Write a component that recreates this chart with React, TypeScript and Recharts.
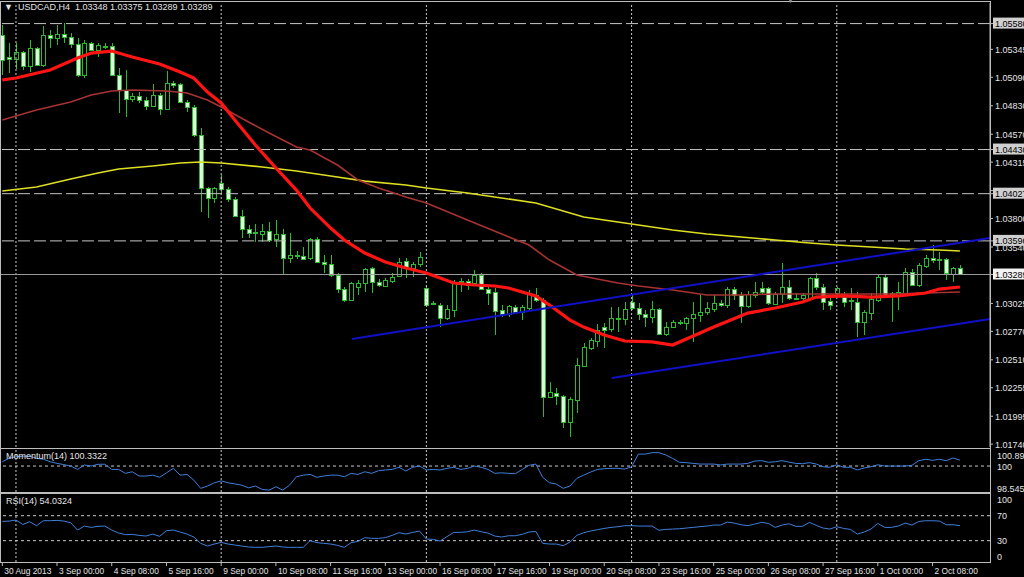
import React from 'react';
import { ComposedChart, Bar, Line, XAxis, YAxis, ReferenceLine } from 'recharts';

// ---------- DATA ----------
const xLabels = ['30 Aug 2013','3 Sep 00:00','4 Sep 08:00','5 Sep 16:00','9 Sep 00:00','10 Sep 08:00','11 Sep 16:00','13 Sep 00:00','16 Sep 08:00','17 Sep 16:00','19 Sep 00:00','20 Sep 08:00','23 Sep 16:00','25 Sep 00:00','26 Sep 08:00','27 Sep 16:00','1 Oct 00:00','2 Oct 08:00'];
const labelStep = 8;
const weekStarts = [2, 32, 62, 92, 122];

const opens = [1.05475,1.05275,1.05256,1.0532,1.05192,1.05357,1.05202,1.05475,1.05448,1.05485,1.05457,1.05393,1.0511,1.05402,1.05338,1.05375,1.05375,1.0511,1.04973,1.04891,1.04919,1.04882,1.04827,1.04928,1.048,1.05037,1.05028,1.04864,1.04818,1.04562,1.04079,1.03987,1.04124,1.04069,1.03978,1.03823,1.03704,1.03677,1.03659,1.03686,1.03613,1.03659,1.03439,1.03467,1.03458,1.03439,1.03613,1.03403,1.03385,1.03284,1.03156,1.03056,1.03175,1.03211,1.03348,1.0322,1.03184,1.03229,1.03275,1.03412,1.03348,1.03385,1.03166,1.03019,1.0301,1.02892,1.02965,1.0322,1.03229,1.03211,1.03284,1.03156,1.03129,1.02965,1.02928,1.02992,1.02946,1.02983,1.03102,1.03056,1.0217,1.02207,1.0218,1.01942,1.02143,1.02453,1.02618,1.02682,1.02809,1.02791,1.02892,1.02883,1.03038,1.02983,1.02928,1.02901,1.02974,1.02746,1.02809,1.02855,1.02846,1.02892,1.02919,1.02946,1.02974,1.03029,1.0301,1.03156,1.03102,1.03001,1.03102,1.03166,1.03166,1.03019,1.03111,1.03175,1.03074,1.03074,1.03074,1.03257,1.03175,1.03047,1.0312,1.03083,1.03056,1.03038,1.02855,1.02937,1.03056,1.03266,1.03111,1.03102,1.0312,1.03312,1.03193,1.03366,1.03439,1.03421,1.0343,1.03293,1.03348];
const highs = [1.05567,1.05402,1.05402,1.05329,1.0543,1.05366,1.05558,1.05521,1.05567,1.05585,1.05494,1.05448,1.0543,1.05412,1.05402,1.05402,1.05402,1.05174,1.05156,1.04946,1.04955,1.04909,1.05028,1.04946,1.05147,1.05055,1.05037,1.04882,1.04836,1.04626,1.04088,1.04088,1.04197,1.04088,1.03996,1.03878,1.03741,1.0375,1.0375,1.03768,1.03786,1.03704,1.03668,1.03503,1.0354,1.03622,1.03631,1.03467,1.03467,1.03303,1.03175,1.0322,1.03239,1.03348,1.03357,1.03248,1.03257,1.03303,1.03439,1.03439,1.03403,1.03494,1.03193,1.03047,1.03029,1.0301,1.03239,1.03257,1.03248,1.0333,1.03303,1.03175,1.03166,1.0301,1.0301,1.0301,1.0301,1.03147,1.03166,1.03074,1.02307,1.02253,1.02189,1.0217,1.02526,1.02663,1.02709,1.02837,1.02846,1.02992,1.02992,1.03038,1.03102,1.03029,1.02965,1.03047,1.02983,1.02855,1.02873,1.02873,1.02901,1.03038,1.03102,1.03038,1.03102,1.03056,1.03175,1.03175,1.03129,1.03138,1.0322,1.0322,1.03175,1.03129,1.03394,1.03239,1.0312,1.0312,1.03266,1.03303,1.03202,1.03083,1.03175,1.03129,1.03166,1.03129,1.02965,1.0312,1.03284,1.03284,1.03129,1.0322,1.03348,1.03339,1.03394,1.03467,1.03558,1.03494,1.03439,1.03357,1.03375];
const lows = [1.0511,1.05129,1.05165,1.05156,1.05138,1.05192,1.05183,1.05357,1.05384,1.05402,1.05357,1.05092,1.05083,1.05329,1.05275,1.05348,1.0511,1.04763,1.04727,1.04864,1.04855,1.04791,1.04818,1.04745,1.04791,1.04992,1.04855,1.04772,1.04544,1.03859,1.03805,1.03942,1.04033,1.03951,1.03814,1.03622,1.03622,1.03586,1.03586,1.03586,1.0354,1.03284,1.03394,1.0343,1.03421,1.03421,1.03394,1.03303,1.03266,1.0312,1.03038,1.03047,1.03102,1.03129,1.0312,1.03175,1.03175,1.03211,1.03266,1.03257,1.03266,1.03357,1.03001,1.0301,1.02809,1.02873,1.02901,1.03129,1.03147,1.03193,1.03147,1.0301,1.02736,1.02901,1.02901,1.02937,1.02873,1.02965,1.03038,1.01988,1.02161,1.02097,1.01887,1.01805,1.02024,1.02444,1.02599,1.02627,1.02618,1.02764,1.02764,1.02828,1.02965,1.02873,1.02809,1.02846,1.02736,1.02727,1.028,1.02828,1.02782,1.02673,1.02855,1.02919,1.02946,1.02992,1.02983,1.03056,1.02846,1.02983,1.03074,1.03111,1.0301,1.0301,1.03029,1.03056,1.03056,1.03056,1.03056,1.03147,1.02965,1.02965,1.03102,1.02992,1.02965,1.02718,1.02736,1.02873,1.03038,1.03083,1.02855,1.02965,1.03102,1.03184,1.03175,1.03348,1.03394,1.0333,1.03239,1.0322,1.03289];
const closes = [1.05247,1.05256,1.0532,1.05192,1.05357,1.05202,1.05475,1.05448,1.05485,1.05457,1.05393,1.0511,1.05402,1.05338,1.05384,1.0537,1.0511,1.04973,1.04891,1.04919,1.04882,1.04827,1.04928,1.048,1.05037,1.05019,1.04864,1.04818,1.04562,1.04079,1.03987,1.04079,1.04069,1.03978,1.03823,1.03704,1.03668,1.03672,1.03686,1.03604,1.03659,1.03439,1.03467,1.03458,1.0343,1.03613,1.03403,1.03385,1.03284,1.03156,1.03056,1.03211,1.03211,1.03339,1.0322,1.03193,1.03239,1.03266,1.03403,1.03357,1.03385,1.03449,1.0301,1.03029,1.02892,1.02974,1.0322,1.03229,1.03193,1.03284,1.03156,1.0312,1.02956,1.02928,1.03001,1.02946,1.02992,1.0312,1.03056,1.0217,1.02216,1.0218,1.01942,1.02152,1.02463,1.02627,1.02691,1.02782,1.02782,1.02892,1.02883,1.02974,1.02983,1.02928,1.02901,1.02974,1.02746,1.02809,1.02855,1.0285,1.02892,1.02928,1.02946,1.02983,1.03029,1.0301,1.03156,1.03102,1.03001,1.03111,1.03129,1.03129,1.03029,1.03111,1.03175,1.03074,1.0307,1.03102,1.03257,1.03175,1.03038,1.0301,1.03166,1.03038,1.03047,1.02855,1.02946,1.03065,1.03266,1.03102,1.0312,1.03129,1.03312,1.03193,1.03376,1.03439,1.03421,1.0343,1.03303,1.03348,1.03289];

// moving averages read at sampled bars: [bar index, price]
const maFast: [number, number][] = [[0,1.05065],[2,1.05083],[7,1.05156],[11,1.05265],[13,1.05311],[16,1.05329],[19,1.05275],[23,1.05211],[26,1.05138],[28,1.05083],[30,1.04955],[32,1.04855],[34,1.04699],[37,1.04471],[40,1.04261],[43,1.0406],[45,1.03896],[48,1.03713],[50,1.03604],[53,1.03485],[56,1.03403],[59,1.03348],[62,1.03303],[66,1.03211],[69,1.03193],[72,1.03184],[74,1.03166],[78,1.03093],[80,1.0301],[83,1.02873],[85,1.02809],[88,1.02736],[91,1.02682],[95,1.02673],[98,1.02645],[101,1.02727],[104,1.02809],[109,1.02937],[113,1.02983],[117,1.03038],[119,1.03083],[123,1.03093],[127,1.03083],[131,1.03093],[135,1.0312],[137,1.03156],[140,1.03175]];
const maMid: [number, number][] = [[0,1.04699],[5,1.04791],[10,1.04864],[13,1.04928],[16,1.04964],[19,1.04973],[24,1.04964],[27,1.04946],[30,1.04882],[32,1.04818],[36,1.04681],[39,1.04581],[43,1.04453],[45,1.04426],[49,1.04289],[52,1.04152],[55,1.04079],[59,1.03996],[62,1.03942],[68,1.03786],[77,1.03558],[80,1.03421],[84,1.03284],[90,1.03211],[93,1.03184],[98,1.03147],[103,1.03102],[108,1.03102],[113,1.03111],[120,1.03111],[130,1.03111],[140,1.03129]];
const maSlow: [number, number][] = [[0,1.04051],[5,1.04088],[10,1.04161],[14,1.04216],[17,1.04252],[22,1.0428],[26,1.04307],[29,1.04316],[32,1.04307],[38,1.04271],[43,1.04234],[48,1.04188],[53,1.04142],[59,1.04106],[62,1.04079],[68,1.04033],[78,1.03942],[85,1.03814],[93,1.03741],[98,1.03695],[103,1.03659],[108,1.03631],[113,1.03604],[118,1.03577],[122,1.03558],[127,1.0354],[132,1.03522],[137,1.03513],[140,1.03503]];

const trendUpper = [{ x: 51.1, y: 1.027 }, { x: 144.4, y: 1.03622 }];
const trendLower = [{ x: 89.1, y: 1.02344 }, { x: 144.4, y: 1.02883 }];
const levels = [1.0558, 1.0443, 1.04027, 1.03596];
const bidLevel = 1.03289;

const momentum = [100.24,100.43,100.52,100.55,100.56,100.43,100.38,100.24,100.15,100.08,100.0,99.81,100.06,100.0,100.1,100.1,99.81,99.81,99.59,99.68,99.44,99.44,99.49,99.37,99.62,99.87,99.49,99.53,99.21,98.75,98.88,99.06,99.17,99.06,99.0,98.93,98.78,98.88,98.69,98.65,98.84,98.65,98.93,99.4,99.49,99.53,99.37,99.44,99.49,99.49,99.4,99.59,99.53,99.68,99.59,99.74,99.78,99.81,99.93,99.72,99.93,100.0,99.78,99.81,99.78,99.87,99.93,99.81,99.87,100.0,99.93,99.81,99.59,99.62,99.59,99.57,99.81,100.04,100.11,99.37,99.06,98.99,98.75,98.88,99.31,99.49,99.66,99.81,99.85,99.87,99.87,99.83,99.96,100.67,100.67,100.75,100.75,100.62,100.43,100.21,100.19,100.15,100.11,100.11,100.11,100.06,100.11,100.11,100.11,100.15,100.28,100.3,100.21,100.24,100.3,100.22,100.15,100.13,100.19,100.11,99.96,99.93,100.07,99.93,99.93,99.78,99.89,99.96,100.07,100.0,100.0,100.0,100.0,100.04,100.3,100.38,100.32,100.38,100.3,100.45,100.33];
const rsi = [60.8,61.4,63.0,56,60.3,54,62,62,62.5,61.4,58.8,47.0,53.4,51.3,53,53.4,47.0,42.2,39.6,40.1,38.5,37.4,40.6,36.9,46.0,47.0,43.8,40.6,35.8,25.7,21.4,24.6,27.3,24.6,23.0,21.4,19.8,19.3,19.3,20.4,21.4,19.8,19.3,19.3,19.3,30.0,26.8,25.7,24.6,22.5,19.3,26.8,28.9,34.8,33.7,33.7,34.8,38.5,42.8,40.6,43.3,45.4,32.6,32.1,29.4,36.4,43.3,43.3,44.3,47.0,44.3,42.2,37.4,35.8,37.9,37.9,40.1,43.8,44.8,25.7,24.6,24.6,21.9,27.8,38.5,42.8,45.4,47.6,49.6,51.3,52.4,54,54,53.4,53.4,53.4,46.6,48.1,48.6,49.1,50.2,51.3,52.4,53.4,55.0,55.0,59.8,58.2,55.5,54,56.6,59.3,57.6,51.3,55,57.1,53,53,59.3,54.5,50.2,48.6,52.4,49.6,48.1,40.6,43.8,48.6,57.6,51.3,51.3,53.4,58.2,55,60.8,61.9,61.9,61.4,55.5,55.5,54.03];

const priceTicks = [1.05345, 1.0509, 1.0483, 1.0457, 1.04315, 1.04055, 1.038, 1.0354, 1.03025, 1.0277, 1.0251, 1.02255, 1.01995, 1.0174];
const momTicks = [100.8985, 100, 98.5458];
const rsiTicks = [100, 70, 30, 0];

// ---------- BUILD ----------
const toMap = (arr: [number, number][]) => new Map(arr.map(([i, v]) => [i, v]));
const fastMap = toMap(maFast), midMap = toMap(maMid), slowMap = toMap(maSlow);

const mainData = opens.map((o, i) => ({
  i, o, h: highs[i], l: lows[i], c: closes[i],
  range: [lows[i], highs[i]],
  fast: fastMap.get(i), mid: midMap.get(i), slow: slowMap.get(i),
}));
const momData = momentum.map((v, i) => ({ i, v }));
const rsiData = rsi.map((v, i) => ({ i, v }));

const X_DOMAIN: [number, number] = [-0.19, 144.4];
const FONT = '"Liberation Sans", Arial, sans-serif';
const GREEN = '#2dbb2d';
const TXT = '#e4e4e4';
const xTicks = xLabels.map((_, k) => k * labelStep);

const Candle = (props: any) => {
  const { x, y, width, height, payload } = props;
  if (!payload) return null;
  const { o, h, l, c } = payload;
  const top = Math.min(y, y + height);
  const hh = Math.abs(height);
  const k = h - l > 0 ? hh / (h - l) : 0;
  const yO = top + (h - o) * k;
  const yC = top + (h - c) * k;
  const cx = Math.round(x + width / 2);
  const bull = c >= o;
  const bTop = Math.round(Math.min(yO, yC));
  const bH = Math.max(Math.round(Math.abs(yC - yO)), 1);
  return (
    <g>
      <line x1={cx + 0.5} x2={cx + 0.5} y1={Math.round(top)} y2={Math.round(top + hh)} stroke={GREEN} strokeWidth={1} />
      <rect x={cx - 1.5} y={bTop + 0.5} width={4} height={bH} fill={bull ? '#000' : '#dcf7dc'} stroke={GREEN} strokeWidth={1} />
    </g>
  );
};

const PriceTick = (props: any) => {
  const { x, y, payload } = props;
  const v = payload.value as number;
  const isLevel = levels.some((l) => Math.abs(l - v) < 1e-7);
  const isBid = Math.abs(v - bidLevel) < 1e-7;
  const txt = v.toFixed(5);
  if (isLevel || isBid) {
    return (
      <g>
        <rect x={x - 3} y={y - 6} width={40} height={11} fill={isBid ? '#f2f2f2' : '#cfcfcf'} />
        <text x={x - 1} y={y + 3.5} fill="#000" fontSize={9} fontFamily={FONT}>{txt}</text>
      </g>
    );
  }
  return <text x={x - 1} y={y + 3.5} fill={TXT} fontSize={9} fontFamily={FONT}>{txt}</text>;
};

const MomTick = (props: any) => {
  const { x, y, payload } = props;
  const v = payload.value as number;
  const dy = v > 100.5 ? 5 : v < 99 ? -4 : 0;
  return <text x={x - 2} y={y + 3.5 + dy} fill={TXT} fontSize={9} fontFamily={FONT}>{v === 100 ? '100' : v.toFixed(4)}</text>;
};

const RsiTick = (props: any) => {
  const { x, y, payload } = props;
  const v = payload.value as number;
  const dy = v === 100 ? 3 : v === 0 ? -3 : 0;
  return <text x={x - 2} y={y + 3.5 + dy} fill={TXT} fontSize={9} fontFamily={FONT}>{String(v)}</text>;
};

const TimeTick = (props: any) => {
  const { x, y, payload } = props;
  const k = Math.round(payload.value / labelStep);
  return <text x={x + 2} y={y + 6} fill={TXT} fontSize={8.4} fontFamily={FONT}>{xLabels[k]}</text>;
};

const weekLines = weekStarts.map((w) => (
  <ReferenceLine key={'w' + w} x={w} stroke="#c8c8c8" strokeDasharray="2 2" strokeWidth={1} />
));

const frame = (top: number, height: number): React.CSSProperties => ({
  position: 'absolute', left: 0, top, width: 989, height, border: '1px solid #bdbdbd', pointerEvents: 'none',
});

const labelStyle = (left: number, top: number, color = TXT): React.CSSProperties => ({
  position: 'absolute', left, top, color, fontSize: 9, fontFamily: FONT, whiteSpace: 'pre', lineHeight: '11px',
});

export default function App() {
  return (
    <div style={{ position: 'fixed', left: 0, top: 0, width: 1024, height: 577, background: '#000', overflow: 'hidden' }}>
      <div style={frame(1, 446)} />
      <div style={frame(448, 43)} />
      <div style={frame(493, 68)} />

      <div style={{ position: 'absolute', left: 0, top: 0 }}>
        <ComposedChart width={1024} height={448} data={mainData} margin={{ top: 3, right: 0, bottom: 1, left: 1 }}>
          <XAxis dataKey="i" type="number" domain={X_DOMAIN} hide allowDataOverflow />
          <YAxis orientation="right" width={34} domain={[1.01714, 1.05768]} allowDataOverflow
            ticks={[...priceTicks, ...levels, bidLevel]} interval={0} tick={<PriceTick />}
            tickSize={3} tickMargin={3} stroke="#bdbdbd" tickLine={{ stroke: '#bdbdbd' }} />
          {weekLines}
          {levels.map((l) => (
            <ReferenceLine key={'l' + l} y={l} stroke="#c4c4c4" strokeDasharray="12 4" strokeWidth={1} />
          ))}
          <ReferenceLine y={bidLevel} stroke="#9a9a9a" strokeWidth={1} />
          <Bar dataKey="range" barSize={5} shape={<Candle />} isAnimationActive={false} />
          <Line dataKey="slow" stroke="#dede22" strokeWidth={1.6} dot={false} connectNulls isAnimationActive={false} />
          <Line dataKey="mid" stroke="#a83232" strokeWidth={1.6} dot={false} connectNulls isAnimationActive={false} />
          <Line dataKey="fast" stroke="#ff1414" strokeWidth={3.2} dot={false} connectNulls isAnimationActive={false} />
          <ReferenceLine segment={trendUpper} stroke="#1010c8" strokeWidth={2} />
          <ReferenceLine segment={trendLower} stroke="#1010c8" strokeWidth={2} />
        </ComposedChart>
      </div>

      <div style={{ position: 'absolute', left: 0, top: 450 }}>
        <ComposedChart width={1024} height={42} data={momData} margin={{ top: 0, right: 0, bottom: 0, left: 1 }}>
          <XAxis dataKey="i" type="number" domain={X_DOMAIN} hide allowDataOverflow />
          <YAxis orientation="right" width={34} domain={[98.5458, 100.8985]} allowDataOverflow
            ticks={momTicks} interval={0} tick={<MomTick />} tickLine={false} axisLine={false} tickMargin={3} />
          {weekLines}
          <ReferenceLine y={100} stroke="#c8c8c8" strokeDasharray="3 3" />
          <Line dataKey="v" stroke="#3f7fdc" strokeWidth={1} dot={false} isAnimationActive={false} />
        </ComposedChart>
      </div>

      <div style={{ position: 'absolute', left: 0, top: 494 }}>
        <ComposedChart width={1024} height={83} data={rsiData} margin={{ top: 0, right: 0, bottom: 0, left: 1 }}>
          <XAxis dataKey="i" type="number" domain={X_DOMAIN} allowDataOverflow ticks={xTicks} interval={0}
            height={15} tick={<TimeTick />} tickSize={4} tickLine={{ stroke: '#bdbdbd' }} axisLine={false} />
          <YAxis orientation="right" width={34} domain={[-4.2, 104.8]} allowDataOverflow
            ticks={rsiTicks} interval={0} tick={<RsiTick />} tickLine={false} axisLine={false} tickMargin={3} />
          {weekLines}
          <ReferenceLine y={70} stroke="#c8c8c8" strokeDasharray="3 3" />
          <ReferenceLine y={30} stroke="#c8c8c8" strokeDasharray="3 3" />
          <Line dataKey="v" stroke="#3f7fdc" strokeWidth={1} dot={false} isAnimationActive={false} />
        </ComposedChart>
      </div>

      <div style={labelStyle(4, 2)}>{'▼  USDCAD,H4  1.03348 1.03375 1.03289 1.03289'}</div>
      <div style={labelStyle(786, -5, '#8a8a8a')}>▼</div>
      <div style={labelStyle(6, 451)}>Momentum(14) 100.3322</div>
      <div style={labelStyle(6, 496)}>RSI(14) 54.0324</div>
    </div>
  );
}
